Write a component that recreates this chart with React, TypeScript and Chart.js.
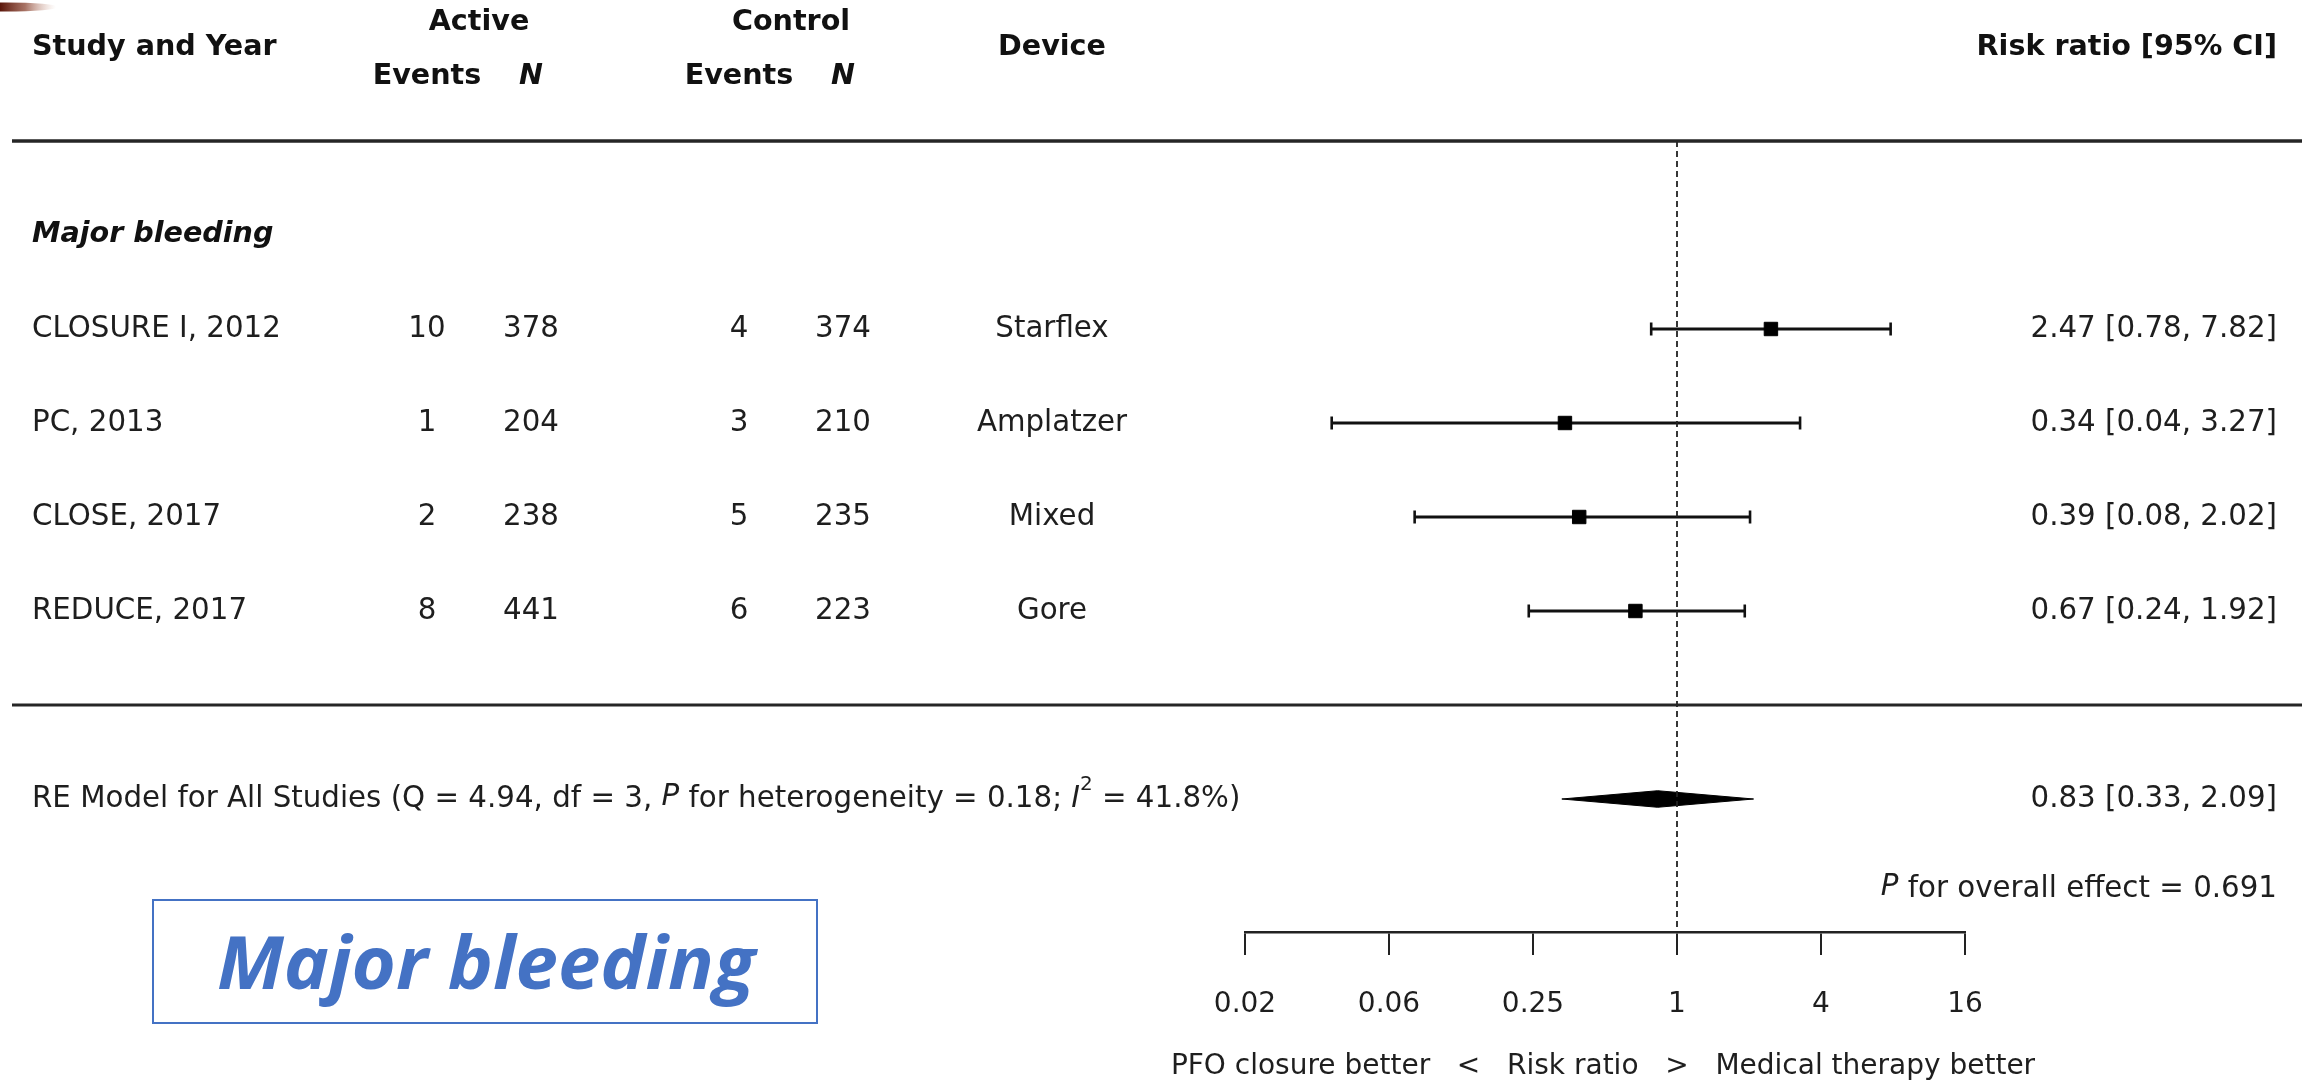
import React, { useEffect, useRef } from "react";
import { Chart, registerables } from "chart.js";

Chart.register(...registerables);

// ---------------- data ----------------
const studies = ["CLOSURE I, 2012", "PC, 2013", "CLOSE, 2017", "REDUCE, 2017"];
const activeEvents = [10, 1, 2, 8];
const activeN = [378, 204, 238, 441];
const controlEvents = [4, 3, 5, 6];
const controlN = [374, 210, 235, 223];
const devices = ["Starflex", "Amplatzer", "Mixed", "Gore"];
const riskRatios = [2.47, 0.34, 0.39, 0.67];
const ciLower = [0.78, 0.036, 0.08, 0.24];
const ciUpper = [7.82, 3.27, 2.02, 1.92];
const pooledRR = 0.83;
const pooledLower = 0.33;
const pooledUpper = 2.09;
const heterogeneityQ = 4.94;
const heterogeneityDf = 3;
const heterogeneityP = 0.18;
const iSquared = 41.8;
const overallP = 0.691;
const tickValues = [1 / 64, 1 / 16, 1 / 4, 1, 4, 16];
const tickLabels = ["0.02", "0.06", "0.25", "1", "4", "16"];
const subgroupTitle = "Major bleeding";
const axisTitle = "PFO closure better   <   Risk ratio   >   Medical therapy better";

// ---------------- layout ----------------
const W = 2310;
const H = 1084;
const PLOT_LEFT = 1245;
const PLOT_RIGHT = 1965;
const PLOT_TOP = 141;
const PLOT_BOTTOM = 932;
const ROW_STEP = 94;
const Y_MAX = (PLOT_BOTTOM - PLOT_TOP) / ROW_STEP;
const AXIS_TITLE_Y = 1067;

const HEADER_TOP_ROW = -1.265;
const HEADER_MID_ROW = -0.99;
const HEADER_SUB_ROW = -0.69;
const HEADING_ROW = 1;
const FIRST_ROW = 2;
const DIVIDER_ROW = 6;
const POOLED_ROW = 7;
const OVERALL_P_ROW = 7.96;
const DIAMOND_HALF = 0.088;

const COL_STUDY = 32;
const COL_AE = 427;
const COL_AN = 531;
const COL_CE = 739;
const COL_CN = 843;
const COL_DEV = 1052;
const COL_RIGHT = 2277;
const LINE_X0 = 12;
const LINE_X1 = 2302;

const BOX = { x: 153, y: 900, w: 664, h: 123 };
const BOX_TEXT_W = 538;

const FAMILY = '"DejaVu Sans", Verdana, sans-serif';
const FS = 29.3;
const FS_BOLD = 28.6;
const FS_AXIS = 28;
const DARK = "#1e1e1e";
const BLUE = "#4472C4";

const fNormal = `${FS}px ${FAMILY}`;
const fItalic = `italic ${FS}px ${FAMILY}`;
const fBold = `bold ${FS_BOLD}px ${FAMILY}`;
const fBoldItalic = `italic bold ${FS_BOLD}px ${FAMILY}`;
const fSup = `${Math.round(FS * 0.68)}px ${FAMILY}`;
const fAxis = `${FS_AXIS}px ${FAMILY}`;

type Run = { t: string; f: string; dy?: number };

function drawText(ctx: CanvasRenderingContext2D, s: string, x: number, y: number, align: CanvasTextAlign, font: string, color = DARK) {
  ctx.font = font;
  ctx.textAlign = align;
  ctx.textBaseline = "middle";
  ctx.fillStyle = color;
  ctx.fillText(s, x, y);
}

function drawRuns(ctx: CanvasRenderingContext2D, runs: Run[], x: number, y: number, align: "left" | "right", color = DARK) {
  ctx.textBaseline = "middle";
  ctx.textAlign = "left";
  ctx.fillStyle = color;
  let total = 0;
  const widths = runs.map((r) => {
    ctx.font = r.f;
    const w = ctx.measureText(r.t).width;
    total += w;
    return w;
  });
  let cx = align === "left" ? x : x - total;
  runs.forEach((r, i) => {
    ctx.font = r.f;
    ctx.fillText(r.t, cx, y + (r.dy || 0));
    cx += widths[i];
  });
}

function fmt(v: number) {
  return v.toFixed(2);
}

const tablePlugin = {
  id: "forestTable",
  beforeDraw(chart: any) {
    const { ctx } = chart;
    ctx.save();
    ctx.fillStyle = "#ffffff";
    ctx.fillRect(0, 0, chart.width, chart.height);
    ctx.restore();
  },
  afterDraw(chart: any) {
    const ctx: CanvasRenderingContext2D = chart.ctx;
    const ys = chart.scales.y;
    const area = chart.chartArea;
    const py = (v: number) => ys.getPixelForValue(v);
    ctx.save();

    // small slide artefact in the corner
    const g = ctx.createLinearGradient(0, 0, 56, 0);
    g.addColorStop(0, "rgba(90,22,10,1)");
    g.addColorStop(0.45, "rgba(130,55,35,0.7)");
    g.addColorStop(1, "rgba(210,160,140,0)");
    ctx.fillStyle = g;
    ctx.beginPath();
    ctx.ellipse(6, 7, 52, 4.5, 0, 0, Math.PI * 2);
    ctx.fill();

    // header
    drawText(ctx, "Study and Year", COL_STUDY, py(HEADER_MID_ROW), "left", fBold, "#111");
    drawText(ctx, "Active", (COL_AE + COL_AN) / 2, py(HEADER_TOP_ROW), "center", fBold, "#111");
    drawText(ctx, "Control", (COL_CE + COL_CN) / 2, py(HEADER_TOP_ROW), "center", fBold, "#111");
    drawText(ctx, "Events", COL_AE, py(HEADER_SUB_ROW), "center", fBold, "#111");
    drawText(ctx, "N", COL_AN, py(HEADER_SUB_ROW), "center", fBoldItalic, "#111");
    drawText(ctx, "Events", COL_CE, py(HEADER_SUB_ROW), "center", fBold, "#111");
    drawText(ctx, "N", COL_CN, py(HEADER_SUB_ROW), "center", fBoldItalic, "#111");
    drawText(ctx, "Device", COL_DEV, py(HEADER_MID_ROW), "center", fBold, "#111");
    drawText(ctx, "Risk ratio [95% CI]", COL_RIGHT, py(HEADER_MID_ROW), "right", fBold, "#111");

    // rules
    ctx.strokeStyle = "#262626";
    ctx.lineWidth = 3.5;
    ctx.beginPath();
    ctx.moveTo(LINE_X0, py(0));
    ctx.lineTo(LINE_X1, py(0));
    ctx.stroke();
    ctx.lineWidth = 3;
    ctx.beginPath();
    ctx.moveTo(LINE_X0, py(DIVIDER_ROW));
    ctx.lineTo(LINE_X1, py(DIVIDER_ROW));
    ctx.stroke();

    // subgroup heading
    drawText(ctx, subgroupTitle, COL_STUDY, py(HEADING_ROW), "left", fBoldItalic, "#111");

    // study rows
    studies.forEach((s, i) => {
      const y = py(FIRST_ROW + i);
      drawText(ctx, s, COL_STUDY, y, "left", fNormal);
      drawText(ctx, String(activeEvents[i]), COL_AE, y, "center", fNormal);
      drawText(ctx, String(activeN[i]), COL_AN, y, "center", fNormal);
      drawText(ctx, String(controlEvents[i]), COL_CE, y, "center", fNormal);
      drawText(ctx, String(controlN[i]), COL_CN, y, "center", fNormal);
      drawText(ctx, devices[i], COL_DEV, y, "center", fNormal);
      drawText(ctx, `${fmt(riskRatios[i])} [${fmt(ciLower[i])}, ${fmt(ciUpper[i])}]`, COL_RIGHT, y, "right", fNormal);
    });

    // pooled row
    const yp = py(POOLED_ROW);
    drawRuns(
      ctx,
      [
        { t: `RE Model for All Studies (Q = ${heterogeneityQ.toFixed(2)}, df = ${heterogeneityDf}, `, f: fNormal },
        { t: "P", f: fItalic, dy: -2 },
        { t: ` for heterogeneity = ${heterogeneityP.toFixed(2)}; `, f: fNormal },
        { t: "I", f: fItalic },
        { t: "2", f: fSup, dy: -14 },
        { t: ` = ${iSquared.toFixed(1)}%)`, f: fNormal },
      ],
      COL_STUDY,
      yp,
      "left"
    );
    drawText(ctx, `${fmt(pooledRR)} [${fmt(pooledLower)}, ${fmt(pooledUpper)}]`, COL_RIGHT, yp, "right", fNormal);
    drawRuns(
      ctx,
      [
        { t: "P", f: fItalic, dy: -2 },
        { t: ` for overall effect = ${overallP.toFixed(3)}`, f: fNormal },
      ],
      COL_RIGHT,
      py(OVERALL_P_ROW),
      "right"
    );

    // x-axis title (wider than the axis, so drawn here without squeezing)
    drawText(ctx, axisTitle, (area.left + area.right) / 2 - 2, AXIS_TITLE_Y, "center", fAxis);

    // blue label box
    ctx.strokeStyle = BLUE;
    ctx.lineWidth = 2;
    ctx.strokeRect(BOX.x, BOX.y, BOX.w, BOX.h);
    ctx.font = `italic bold 74px "Open Sans", Lato, sans-serif`;
    const tw = ctx.measureText(subgroupTitle).width;
    const sx = BOX_TEXT_W / tw;
    ctx.save();
    ctx.translate(BOX.x + BOX.w / 2 + 1, 989);
    ctx.scale(sx, 1);
    ctx.fillStyle = BLUE;
    ctx.textAlign = "center";
    ctx.textBaseline = "alphabetic";
    ctx.fillText(subgroupTitle, 0, 0);
    ctx.restore();

    ctx.restore();
  },
};

export default function App() {
  const ref = useRef<HTMLCanvasElement>(null);

  useEffect(() => {
    const canvas = ref.current;
    if (!canvas) return;

    const refLine = {
      type: "line",
      label: "no effect",
      data: [
        { x: 1, y: 0 },
        { x: 1, y: Y_MAX },
      ],
      borderColor: "#222",
      borderWidth: 1.8,
      borderDash: [6, 4],
      pointRadius: 0,
    };

    const ciLines = studies.map((s, i) => ({
      type: "line",
      label: s,
      data: [
        { x: ciLower[i], y: FIRST_ROW + i },
        { x: ciUpper[i], y: FIRST_ROW + i },
      ],
      borderColor: "#111",
      borderWidth: 3.2,
      pointStyle: "line",
      pointRotation: 90,
      pointRadius: 6.5,
      pointBorderWidth: 2.6,
      pointBorderColor: "#111",
      pointBackgroundColor: "#111",
    }));

    const estimates = {
      type: "scatter",
      label: "Risk ratio",
      data: riskRatios.map((v, i) => ({ x: v, y: FIRST_ROW + i })),
      pointStyle: "rect",
      pointRadius: 9.5,
      pointBorderWidth: 1,
      pointBackgroundColor: "#000",
      pointBorderColor: "#000",
    };

    const diamond = {
      type: "line",
      label: "RE model",
      data: [
        { x: pooledLower, y: POOLED_ROW },
        { x: pooledRR, y: POOLED_ROW - DIAMOND_HALF },
        { x: pooledUpper, y: POOLED_ROW },
        { x: pooledRR, y: POOLED_ROW + DIAMOND_HALF },
        { x: pooledLower, y: POOLED_ROW },
      ],
      fill: "shape",
      backgroundColor: "#000",
      borderColor: "#000",
      borderWidth: 1,
      pointRadius: 0,
      tension: 0,
    };

    const chart = new Chart(canvas, {
      type: "scatter",
      data: { datasets: [refLine, estimates, ...ciLines, diamond] as any },
      options: {
        responsive: false,
        animation: false,
        devicePixelRatio: 1,
        events: [],
        layout: {
          padding: { left: PLOT_LEFT, right: W - PLOT_RIGHT, top: PLOT_TOP, bottom: 0 },
        },
        plugins: {
          legend: { display: false },
          tooltip: { enabled: false },
        },
        scales: {
          x: {
            type: "logarithmic",
            position: "bottom",
            min: tickValues[0],
            max: tickValues[tickValues.length - 1],
            bounds: "data",
            afterBuildTicks: (s: any) => {
              s.ticks = tickValues.map((v) => ({ value: v }));
            },
            afterFit: (s: any) => {
              s.height = H - PLOT_BOTTOM;
            },
            grid: {
              display: true,
              drawOnChartArea: false,
              drawTicks: true,
              tickLength: 23,
              color: "#222",
              lineWidth: 2,
            },
            border: { display: true, color: "#222", width: 2.5 },
            ticks: {
              autoSkip: false,
              maxRotation: 0,
              minRotation: 0,
              padding: 33,
              color: DARK,
              font: { family: FAMILY, size: FS_AXIS },
              callback: (_v: any, i: number) => tickLabels[i],
            },
            title: { display: false },
          },
          y: {
            type: "linear",
            display: false,
            reverse: true,
            min: 0,
            max: Y_MAX,
          },
        },
      } as any,
      plugins: [tablePlugin],
    });

    return () => chart.destroy();
  }, []);

  return (
    <div style={{ position: "fixed", left: 0, top: 0, width: W, height: H, background: "#fff" }}>
      <canvas ref={ref} width={W} height={H} style={{ display: "block" }} />
    </div>
  );
}
